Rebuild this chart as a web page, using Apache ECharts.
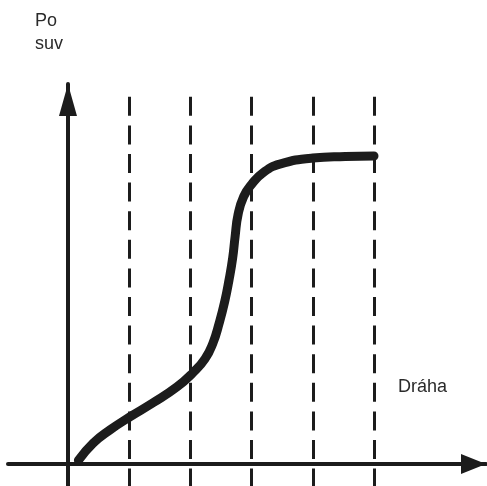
<!DOCTYPE html>
<html><head><meta charset="utf-8">
<script src="https://cdn.jsdelivr.net/npm/echarts@6/dist/echarts.min.js"></script>
<style>html,body{margin:0;padding:0;background:#fff}#c{width:487px;height:486px}</style>
</head><body><div id="c"></div>
<script>
// Data (units: one dashed-line spacing)
const curveX = [0.17, 0.41, 0.69, 1.01, 1.39, 1.78, 2.04, 2.24, 2.37, 2.47, 2.56, 2.63, 2.69, 2.73, 2.78, 2.87, 3.00, 3.20, 3.46, 4.0, 4.53, 5.0];
const curveY = [0.06, 0.34, 0.56, 0.77, 1.00, 1.26, 1.49, 1.72, 1.98, 2.30, 2.65, 3.00, 3.36, 3.71, 4.08, 4.37, 4.57, 4.77, 4.90, 5.0, 5.025, 5.033];
const dashX = [1, 2, 3, 4, 5];
const dashTop = 6.0;
const yAxisLabel = ['Po', 'suv'];
const xAxisLabel = 'Dráha';

const xMin = -0.98, xMax = 6.83, yMin = -0.359, yMax = 6.209;
const ink = '#1c1c1c';
const chart = echarts.init(document.getElementById('c'), null, {renderer: 'canvas'});
chart.setOption({
  animation: false,
  grid: {left: 8, right: 1, top: 84, bottom: 0, containLabel: false},
  xAxis: {
    type: 'value', min: xMin, max: xMax,
    axisLine: {onZero: true, lineStyle: {color: ink, width: 4}, symbol: ['none', 'triangle'], symbolSize: [20, 25], symbolOffset: [0, -12.5]},
    axisTick: {show: false}, axisLabel: {show: false}, splitLine: {show: false}
  },
  yAxis: {
    type: 'value', min: yMin, max: yMax,
    axisLine: {onZero: true, lineStyle: {color: ink, width: 4}, symbol: ['none', 'triangle'], symbolSize: [18, 32], symbolOffset: [0, -16]},
    axisTick: {show: false}, axisLabel: {show: false}, splitLine: {show: false}
  },
  series: [{
    type: 'line',
    data: curveX.map((x, i) => [x, curveY[i]]),
    smooth: 0.5,
    showSymbol: false,
    lineStyle: {color: ink, width: 9, cap: 'round', join: 'round'},
    markLine: {
      silent: true, symbol: 'none', label: {show: false},
      lineStyle: {color: ink, width: 3, type: [19, 9.6]},
      data: dashX.map(x => [{coord: [x, dashTop]}, {coord: [x, yMin]}])
    },
    z: 3
  }],
  graphic: [
    {type: 'text', left: 35, top: 12, style: {text: yAxisLabel[0], font: '18px "Liberation Sans", Arial, sans-serif', fill: '#2a2a2a'}},
    {type: 'text', left: 35, top: 35, style: {text: yAxisLabel[1], font: '18px "Liberation Sans", Arial, sans-serif', fill: '#2a2a2a'}},
    {type: 'text', left: 398, top: 378, style: {text: xAxisLabel, font: '18px "Liberation Sans", Arial, sans-serif', fill: '#2a2a2a'}}
  ]
});
</script></body></html>
